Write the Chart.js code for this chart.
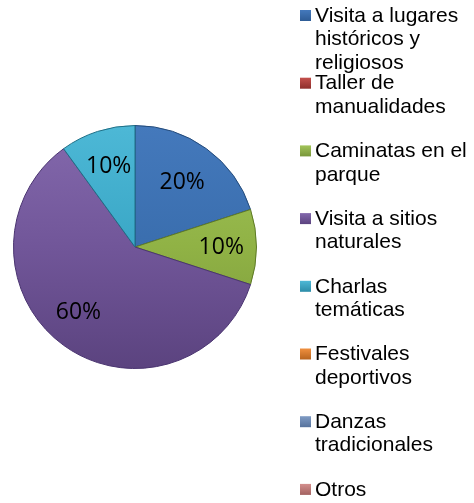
<!DOCTYPE html>
<html>
<head>
<meta charset="utf-8">
<script src="https://cdn.jsdelivr.net/npm/chart.js@4"></script>
<style>
  html, body { margin: 0; padding: 0; background: #fff; }
  #wrap { width: 474px; height: 503px; position: relative; }
</style>
</head>
<body>
<div id="wrap"><canvas id="pieChart"></canvas></div>
<script>
const categories = [
    'Visita a lugares históricos y religiosos',
    'Taller de manualidades',
    'Caminatas en el parque',
    'Visita a sitios naturales',
    'Charlas temáticas',
    'Festivales deportivos',
    'Danzas tradicionales',
    'Otros'
]
const percentValues = [20, 0, 10, 60, 10, 0, 0, 0]
const sliceColors = ['#3A6EAE', '#B43C39', '#90B245', '#715699', '#3AA7C6', '#E47E2A', '#6C89B5', '#C47C7A']
const lightColors = ['#4479BC', '#C4504C', '#A2C45A', '#8469AD', '#4DB8D6', '#F0903F', '#7F9BC4', '#D38F8D']
const darkColors = ['#2E5C96', '#8E2E2B', '#78963A', '#5B437F', '#2C8CA8', '#B8641E', '#56729C', '#A36260']
const edgeColors = ['#234a7a', '#7a2523', '#5e7a26', '#4a3470', '#1f6f86', '#9a5214', '#44608a', '#8a4e4c']

// small tweak of label angle (deg) / distance so the numbers sit like the original
const labelPlacement = [
    { shift: 0, dist: 0.66 },
    { shift: 0, dist: 0.7 },
    { shift: 0, dist: 0.71 },
    { shift: 5, dist: 0.71 },
    { shift: 0, dist: 0.7 },
    { shift: 0, dist: 0.7 },
    { shift: 0, dist: 0.7 },
    { shift: 0, dist: 0.7 }
]

function sliceFill(context) {
    const chart = context.chart
    const area = chart.chartArea
    const i = context.dataIndex
    if (!area) return sliceColors[i]
    const g = chart.ctx.createLinearGradient(0, area.top, 0, area.bottom)
    g.addColorStop(0, lightColors[i])
    g.addColorStop(0.5, sliceColors[i])
    g.addColorStop(1, darkColors[i])
    return g
}

const sliceLabels = {
    id: 'sliceLabels',
    afterDatasetsDraw(chart) {
        const ctx = chart.ctx
        const meta = chart.getDatasetMeta(0)
        ctx.save()
        ctx.font = '23px "Open Sans", "Noto Sans", sans-serif'
        ctx.fillStyle = '#000'
        ctx.textAlign = 'center'
        ctx.textBaseline = 'middle'
        meta.data.forEach((arc, i) => {
            const v = percentValues[i]
            if (!v) return
            const p = arc.getProps(['x', 'y', 'startAngle', 'endAngle', 'outerRadius'], true)
            const mid = (p.startAngle + p.endAngle) / 2 + labelPlacement[i].shift * Math.PI / 180
            const r = p.outerRadius * labelPlacement[i].dist
            ctx.fillText(v + '%', p.x + Math.cos(mid) * r, p.y + Math.sin(mid) * r)
        })
        ctx.restore()
    }
}

function wrapText(ctx, text, maxWidth) {
    const words = text.split(' ')
    const lines = []
    let line = ''
    for (const w of words) {
        const test = line ? line + ' ' + w : w
        if (ctx.measureText(test).width > maxWidth && line) {
            lines.push(line)
            line = w
        } else {
            line = test
        }
    }
    if (line) lines.push(line)
    return lines
}

const sideLegend = {
    id: 'sideLegend',
    afterDraw(chart) {
        const ctx = chart.ctx
        const boxX = 300, textX = 315
        const firstY = 16, itemStep = 67.7, lineH = 23.5
        ctx.save()
        ctx.font = '21px "Liberation Sans", Arial, sans-serif'
        ctx.textBaseline = 'middle'
        ctx.textAlign = 'left'
        categories.forEach((cat, i) => {
            const y = firstY + itemStep * i
            const g = ctx.createLinearGradient(0, y - 6, 0, y + 5)
            g.addColorStop(0, lightColors[i])
            g.addColorStop(1, darkColors[i])
            ctx.fillStyle = g
            ctx.fillRect(boxX, y - 6, 11, 11)
            ctx.fillStyle = '#000'
            wrapText(ctx, cat, 158).forEach((ln, j) => {
                ctx.fillText(ln, textX, y + j * lineH)
            })
        })
        ctx.restore()
    }
}

const ctx = document.getElementById('pieChart').getContext('2d')
const pieChart = new Chart(ctx, {
    type: 'pie',
    data: {
        labels: categories,
        datasets: [{
            data: percentValues,
            backgroundColor: sliceFill,
            borderColor: edgeColors,
            borderWidth: 1
        }]
    },
    options: {
        responsive: true,
        maintainAspectRatio: false,
        animation: false,
        layout: {
            padding: { left: 13, right: 217, top: 125, bottom: 134 }
        },
        plugins: {
            legend: { display: false },
            tooltip: { enabled: false }
        }
    },
    plugins: [sliceLabels, sideLegend]
})
</script>
</body>
</html>
